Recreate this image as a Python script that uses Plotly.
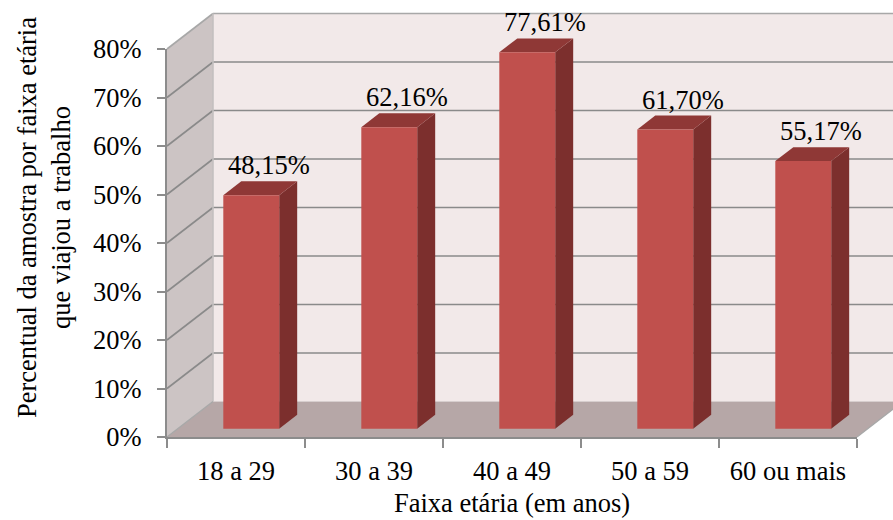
import plotly.graph_objects as go

# ---------------- data ----------------
categories = ["18 a 29", "30 a 39", "40 a 49", "50 a 59", "60 ou mais"]
values = [48.15, 62.16, 77.61, 61.70, 55.17]
y_ticks = [0, 10, 20, 30, 40, 50, 60, 70, 80]
x_title = "Faixa etária (em anos)"
y_title = "Percentual da amostra por faixa etária<br>que viajou a trabalho"

# ---------------- geometry / style ----------------
W, H = 893, 520
PX0, PY0 = 167, 437          # front-plane origin (pixels)
PX_PER_CAT = 138.0
PX_PER_PCT = 4.85
YMAX = 80
DEPTH_PX = (46, 35.5)        # oblique depth vector in pixels
DX = DEPTH_PX[0] / PX_PER_CAT
DY = DEPTH_PX[1] / PX_PER_PCT
F0, F1 = 0.234, 0.625        # bar front/back depth fractions
BL, BR = 0.33, 0.735         # bar left/right inside category

FONT = "Liberation Serif, Times New Roman, serif"
FS = 26.5
C_BACK = "#F2E9E9"
C_LEFT = "#CCC4C4"
C_FLOOR = "#B6A7A7"
C_GRID = "#8A8A8A"
C_EDGE = "#A8A8A8"
C_FRONT = "#C0504D"
C_SIDE = "#7C2F2D"
C_TOP = "#8F3836"

n = len(categories)
xr_full = [-PX0 / PX_PER_CAT, (W - PX0) / PX_PER_CAT]
yr_full = [-(H - PY0) / PX_PER_PCT, PY0 / PX_PER_PCT]

fig = go.Figure()


def poly(xs, ys, color, line_color=None, lw=0):
    fig.add_trace(go.Scatter(
        x=list(xs) + [xs[0]], y=list(ys) + [ys[0]], mode="lines", fill="toself",
        fillcolor=color, line=dict(color=line_color or color, width=lw),
        hoverinfo="skip", showlegend=False, xaxis="x", yaxis="y"))


def seg(x0, y0, x1, y1, color, width):
    fig.add_trace(go.Scatter(
        x=[x0, x1], y=[y0, y1], mode="lines", line=dict(color=color, width=width),
        hoverinfo="skip", showlegend=False, xaxis="x", yaxis="y"))


# back wall
poly([DX, n + DX, n + DX, DX], [DY, DY, YMAX + DY, YMAX + DY], C_BACK)
# left wall
poly([0, 0, DX, DX], [0, YMAX, YMAX + DY, DY], C_LEFT)
# floor
poly([0, n, n + DX, DX], [0, 0, DY, DY], C_FLOOR)

# gridlines on back wall & left wall
for v in y_ticks[1:]:
    col = C_EDGE if v == YMAX else C_GRID
    seg(DX, v + DY, n + DX, v + DY, col, 1.6)
    seg(0, v, DX, v + DY, col, 1.6)
# edges
seg(DX, DY, DX, YMAX + DY, "#C4C0C0", 1.6)
seg(0, 0, DX, DY, C_EDGE, 1.4)
seg(n, 0, n + DX, DY, C_EDGE, 1.4)

# bars
for i, v in enumerate(values):
    xl, xr = i + BL, i + BR
    fx0, fy0 = F0 * DX, F0 * DY
    bx0, by0 = F1 * DX, F1 * DY
    # side face
    poly([xr + fx0, xr + bx0, xr + bx0, xr + fx0],
         [fy0, by0, v + by0, v + fy0], C_SIDE)
    # top face
    poly([xl + fx0, xr + fx0, xr + bx0, xl + bx0],
         [v + fy0, v + fy0, v + by0, v + by0], C_TOP)
    # front face
    poly([xl + fx0, xr + fx0, xr + fx0, xl + fx0],
         [fy0, fy0, v + fy0, v + fy0], C_FRONT)
    # data label
    fig.add_annotation(
        x=(xl + xr) / 2 + bx0, y=v + by0, xref="x", yref="y",
        text=f"{v:.2f}".replace(".", ",") + "%", showarrow=False,
        yanchor="bottom", xanchor="center", yshift=-1,
        font=dict(family=FONT, size=FS, color="black"))

# dummy trace for the front-plane axis subplot
fig.add_trace(go.Scatter(x=[0.5], y=[0], mode="markers", marker=dict(opacity=0),
                         hoverinfo="skip", showlegend=False, xaxis="x2", yaxis="y2"))

x2_dom = [PX0 / W, (PX0 + n * PX_PER_CAT) / W]
y2_dom = [(H - PY0) / H, (H - PY0 + YMAX * PX_PER_PCT) / H]

fig.update_layout(
    width=W, height=H,
    margin=dict(l=0, r=0, t=0, b=0, pad=0),
    paper_bgcolor="white", plot_bgcolor="rgba(0,0,0,0)",
    showlegend=False, hovermode=False,
    xaxis=dict(domain=[0, 1], range=xr_full, visible=False, anchor="y",
               fixedrange=True, automargin=False),
    yaxis=dict(domain=[0, 1], range=yr_full, visible=False, anchor="x",
               fixedrange=True, automargin=False),
    xaxis2=dict(domain=x2_dom, range=[0, n], anchor="y2", automargin=False,
                tickvals=[i + 0.5 for i in range(n)], ticktext=categories,
                ticks="outside", ticklen=9, tickcolor="rgba(0,0,0,0)",
                minor=dict(tickvals=list(range(n + 1)), ticks="outside", ticklen=9,
                           tickcolor="#8C8C8C", tickwidth=1.5, showgrid=False),
                showline=True, linecolor="#8C8C8C", linewidth=2,
                showgrid=False, zeroline=False, fixedrange=True,
                tickfont=dict(family=FONT, size=FS, color="black")),
    yaxis2=dict(domain=y2_dom, range=[0, YMAX], anchor="x2", automargin=False,
                tickvals=y_ticks, ticktext=[f"{t}%" for t in y_ticks],
                ticks="outside", ticklen=8, tickcolor="#8C8C8C", tickwidth=1.5,
                ticklabelstandoff=10,
                showline=True, linecolor="#8C8C8C", linewidth=2,
                showgrid=False, zeroline=False, fixedrange=True,
                tickfont=dict(family=FONT, size=FS, color="black")),
)

fig.add_annotation(x=(x2_dom[0] + x2_dom[1]) / 2, y=1 - 503 / H, xref="paper", yref="paper",
                   text=x_title, showarrow=False, xanchor="center", yanchor="middle",
                   borderpad=0,
                   font=dict(family=FONT, size=FS, color="black"))
fig.add_annotation(x=44 / W, y=1 - 218 / H, xref="paper", yref="paper",
                   text=y_title, showarrow=False, textangle=-90,
                   xanchor="center", yanchor="middle", align="center",
                   font=dict(family=FONT, size=FS, color="black"))

fig.write_html("out.html", config={"displayModeBar": False})
